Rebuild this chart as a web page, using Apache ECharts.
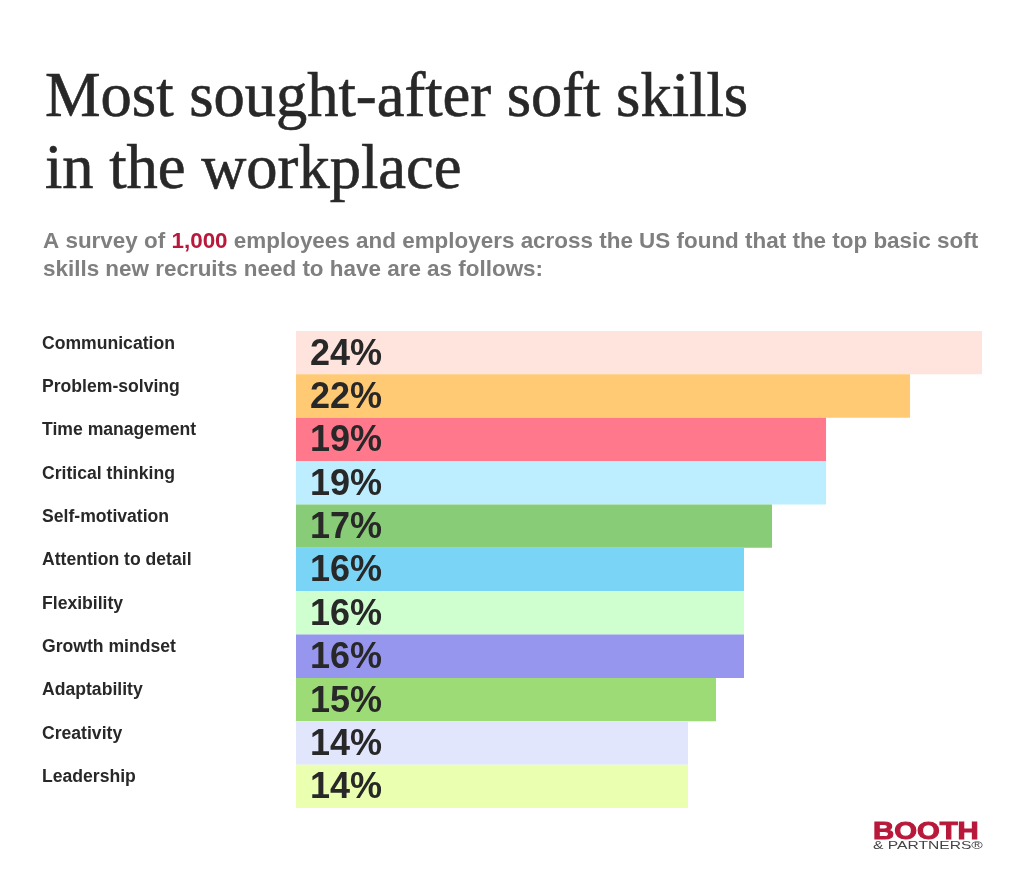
<!DOCTYPE html>
<html>
<head>
<meta charset="utf-8">
<title>Most sought-after soft skills</title>
<style>
  html, body { margin: 0; padding: 0; background: #fff; }
  #chart { width: 1024px; height: 894px; }
</style>
<script src="https://cdn.jsdelivr.net/npm/echarts@6/dist/echarts.min.js"></script>
</head>
<body>
<div id="chart"></div>
<script>
  var skills = ['Communication', 'Problem-solving', 'Time management', 'Critical thinking', 'Self-motivation',
    'Attention to detail', 'Flexibility', 'Growth mindset', 'Adaptability', 'Creativity', 'Leadership']
  // bar lengths as drawn in the picture, the top bars run a little off the printed figures
  var barLengths = [24.5, 21.93, 18.93, 18.93, 17, 16, 16, 16, 15, 14, 14]
  var printedShares = ['24%', '22%', '19%', '19%', '17%', '16%', '16%', '16%', '15%', '14%', '14%']
  var barColors = ['#ffe3dd', '#ffca73', '#ff788c', '#bdeeff', '#88cc77', '#7ad4f5',
    '#cfffcf', '#9696ee', '#9ddb77', '#e1e6fc', '#ebffb0']

  var INK = '#282828'
  var RED = '#b8193a'
  var SANS = '"Liberation Sans", Arial, sans-serif'

  var chart = echarts.init(document.getElementById('chart'), null, { renderer: 'canvas' })

  chart.setOption({
    backgroundColor: '#fff',
    animation: false,
    title: [
      {
        text: 'Most sought-after soft skills\nin the workplace',
        left: 40, top: 59,
        textStyle: {
          fontFamily: '"Liberation Serif", serif', fontSize: 62.5, fontWeight: 'normal', color: INK, lineHeight: 72,
          textBorderColor: INK, textBorderWidth: 0.6
        }
      },
      {
        text: '{g|A survey of }{r|1,000}{g| employees and employers across the US found that the top basic soft}\n{g|skills new recruits need to have are as follows:}',
        left: 38, top: 223,
        textStyle: {
          rich: {
            g: { fontFamily: SANS, fontSize: 22.45, fontWeight: 'bold', color: '#7f7f7f', lineHeight: 28 },
            r: { fontFamily: SANS, fontSize: 22.45, fontWeight: 'bold', color: RED, lineHeight: 28 }
          }
        }
      }
    ],
    graphic: [
      {
        type: 'text', x: 873, y: 820, scaleX: 1.22,
        style: { text: 'BOOTH', fontFamily: SANS, fontSize: 24, fontWeight: 'bold', fill: RED, stroke: RED, lineWidth: 1 }
      },
      {
        type: 'text', x: 873, y: 840, scaleX: 1.42,
        style: { text: '& PARTNERS®', fontFamily: SANS, fontSize: 11, fill: '#444' }
      }
    ],
    grid: { left: 296, top: 331, width: 686, height: 477, containLabel: false },
    xAxis: { type: 'value', min: 0, max: 24.5, show: false },
    yAxis: {
      type: 'category',
      inverse: true,
      data: skills,
      axisLine: { show: false },
      axisTick: { show: false },
      axisLabel: {
        align: 'left',
        verticalAlign: 'bottom',
        lineHeight: 18,
        margin: 254,
        fontFamily: SANS,
        fontSize: 17.6,
        fontWeight: 'bold',
        color: INK
      }
    },
    series: [{
      type: 'bar',
      barWidth: '100%',
      data: barLengths.map(function (v, i) {
        return { value: v, itemStyle: { color: barColors[i] } }
      }),
      label: {
        show: true,
        position: 'insideLeft',
        offset: [9, 2],
        formatter: function (p) { return printedShares[p.dataIndex] },
        fontFamily: SANS,
        fontSize: 36,
        fontWeight: 'bold',
        color: INK
      }
    }]
  })
</script>
</body>
</html>
